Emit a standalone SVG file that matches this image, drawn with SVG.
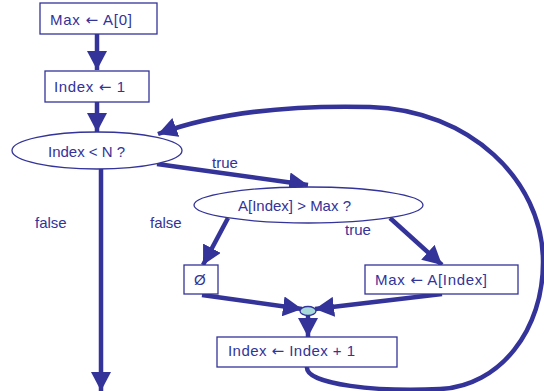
<svg xmlns="http://www.w3.org/2000/svg" width="544" height="391" viewBox="0 0 544 391">
<style>
.box{fill:#fff;stroke:#333399;stroke-width:1.3}
.ell{fill:#fff;stroke:#333399;stroke-width:1.3}
.t{font-family:"Liberation Sans",Arial,sans-serif;font-size:15px;fill:#333399}
.ar{font-family:"DejaVu Sans",sans-serif;font-weight:normal}
.c{fill:none;stroke:#333399;stroke-width:4.5;marker-end:url(#ah)}
</style>
<defs>
<marker id="ah" markerUnits="userSpaceOnUse" markerWidth="20" markerHeight="20" refX="19" refY="10" orient="auto" viewBox="0 0 20 20">
<path d="M0,0 L19,10 L0,20 z" fill="#333399"/>
</marker>
</defs>
<rect width="544" height="391" fill="#fff"/>
<g id="connectors">
<line class="c" x1="97" y1="34" x2="97" y2="70"/>
<line class="c" x1="97" y1="102" x2="97" y2="132"/>
<line class="c" x1="101" y1="169" x2="101" y2="391"/>
<path class="c" d="M157,164 L308,185"/>
<path class="c" d="M228,218 L203,265"/>
<path class="c" d="M390,218 L442,265"/>
<path class="c" d="M202,295 L302,309"/>
<path class="c" d="M442,294 L315,309"/>
<path class="c" d="M308,315 L308,337"/>
<path class="c" d="M307,367 C305,385 380,392 440,389 C500,386 544,330 543,260 C542,180 470,110 370,107 C290,105 215,113 158,134"/>
</g>
<g id="n1"><rect class="box" x="40" y="3" width="117" height="31"/><text class="t" x="50" y="25" textLength="82" lengthAdjust="spacing">Max <tspan class="ar">←</tspan> A[0]</text></g>
<g id="n2"><rect class="box" x="45" y="71" width="104" height="31"/><text class="t" x="54" y="92" textLength="71" lengthAdjust="spacing">Index <tspan class="ar">←</tspan> 1</text></g>
<g id="n3"><ellipse class="ell" cx="97" cy="150.5" rx="85" ry="18.5"/><text class="t" x="48" y="157">Index &lt; N ?</text></g>
<g id="n4"><ellipse class="ell" cx="308.5" cy="205" rx="114.5" ry="18"/><text class="t" x="238" y="211">A[Index] &gt; Max ?</text></g>
<g id="n5"><rect class="box" x="184" y="265" width="34" height="29"/><text class="t" x="194" y="285">Ø</text></g>
<g id="n6"><rect class="box" x="365" y="265" width="153" height="29"/><text class="t" x="375" y="285" textLength="112" lengthAdjust="spacing">Max <tspan class="ar">←</tspan> A[Index]</text></g>
<g id="n7"><ellipse cx="308" cy="311" rx="8" ry="4.5" fill="#a8dadc" stroke="#333399" stroke-width="1.3"/></g>
<g id="n8"><rect class="box" x="217" y="337" width="180" height="30"/><text class="t" x="228" y="356" textLength="127" lengthAdjust="spacing">Index <tspan class="ar">←</tspan> Index + 1</text></g>
<g id="labels">
<text class="t" x="212" y="168">true</text>
<text class="t" x="345" y="235">true</text>
<text class="t" x="35" y="228">false</text>
<text class="t" x="150" y="228">false</text>
</g>
</svg>
